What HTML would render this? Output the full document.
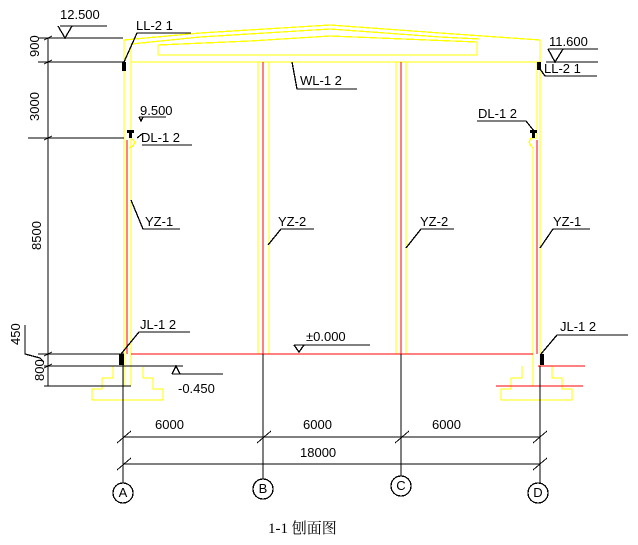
<!DOCTYPE html>
<html><head><meta charset="utf-8"><style>
html,body{margin:0;padding:0;background:#fff;}
svg{display:block;}
text{font-family:"Liberation Sans","Noto Sans CJK SC",sans-serif;font-size:13px;fill:#000;}
</style></head><body>
<svg width="638" height="545" viewBox="0 0 638 545" xmlns="http://www.w3.org/2000/svg">
<g fill="none" stroke-width="1.3" shape-rendering="crispEdges">
<g stroke="#ffff00">
<polyline points="124,62 124,40 200,33 330,25 440,33 540,40 540,62"/>
<polyline points="131,62 131,44 200,37 330,29 440,37 480,39"/>
<polyline points="158,55 158,45 250,41 330,36 477,42 477,55 158,55"/>
<line x1="131" y1="62" x2="540" y2="62"/>
<line x1="124" y1="62" x2="124" y2="386"/>
<line x1="131" y1="62" x2="131" y2="386"/>
<line x1="258" y1="62" x2="258" y2="354"/>
<line x1="269" y1="62" x2="269" y2="354"/>
<line x1="396" y1="62" x2="396" y2="354"/>
<line x1="406" y1="62" x2="406" y2="354"/>
<line x1="537" y1="62" x2="537" y2="137"/>
<polyline points="533,386 533,148 531,146 529,142 531,138 537,138"/>
<line x1="540" y1="62" x2="540" y2="386"/>
<polyline points="129,148 133,146 135,142 131,138"/>
<polyline points="113,366 113,378 102,378 102,389 92,389 92,400 163,400 163,389 153,389 153,378 143,378 143,367"/>
<polyline points="522,366 522,378 511,378 511,389 501,389 501,400 572,400 572,389 562,389 562,378 552,378 552,366 541,366"/>
</g>
<g stroke="#ff0000">
<line x1="127" y1="140" x2="127" y2="354"/>
<line x1="263" y1="62" x2="263" y2="354"/>
<line x1="401" y1="62" x2="401" y2="354"/>
<line x1="537" y1="140" x2="537" y2="354"/>
<line x1="131" y1="354" x2="533" y2="354"/>
<line x1="538" y1="366" x2="585" y2="366"/>
<line x1="496" y1="386" x2="583" y2="386"/>
</g>
<g stroke="#000">
<line x1="48" y1="38" x2="48" y2="386"/>
<line x1="38" y1="38" x2="123" y2="38"/>
<line x1="38" y1="62" x2="124" y2="62"/>
<line x1="28" y1="138" x2="124" y2="138"/>
<line x1="38" y1="354" x2="124" y2="354"/>
<line x1="44" y1="366" x2="183" y2="366"/>
<line x1="44" y1="386" x2="131" y2="386"/>
<polyline points="25,325 25,354 40,358 44,362"/>
<line x1="60" y1="26" x2="107" y2="26"/>
<polyline points="58,26 65,38 72,26"/>
<line x1="172" y1="374" x2="223" y2="374"/>
<polyline points="172,374 176,366 180,374"/>
<polyline points="124,62 137,33 191,33"/>
<line x1="137" y1="138" x2="142" y2="134"/>
<line x1="142" y1="145" x2="192" y2="145"/>
<polyline points="292,62 297,89 357,89"/>
<polyline points="540,69 545,76 597,76"/>
<line x1="546" y1="62" x2="598" y2="62"/>
<line x1="548" y1="49" x2="598" y2="49"/>
<polyline points="548,49 555,62 563,49"/>
<polyline points="477,121 526,121 534,131"/>
<polyline points="131,200 143,229 180,229"/>
<polyline points="268,245 281,229 314,229"/>
<polyline points="406,248 421,229 454,229"/>
<polyline points="540,248 553,229 590,229"/>
<polyline points="121,354 139,332 190,332"/>
<polyline points="541,354 557,335 628,335"/>
<line x1="294" y1="345" x2="370" y2="345"/>
<polyline points="294,345 299,352 304,345"/>
<line x1="139" y1="117" x2="166" y2="117"/>
<polyline points="139,117 141,121 143,117"/>
<line x1="123" y1="354" x2="123" y2="483"/>
<line x1="263" y1="354" x2="263" y2="479"/>
<line x1="401" y1="354" x2="401" y2="476"/>
<line x1="540" y1="366" x2="540" y2="483"/>
<line x1="123" y1="437" x2="540" y2="437"/>
<line x1="123" y1="464" x2="540" y2="464"/>
<g stroke-width="1">
<line x1="117" y1="443" x2="131" y2="431"/><line x1="257" y1="443" x2="271" y2="431"/>
<line x1="395" y1="443" x2="409" y2="431"/><line x1="533" y1="443" x2="547" y2="431"/>
<line x1="117" y1="470" x2="131" y2="458"/><line x1="533" y1="470" x2="547" y2="458"/>
<line x1="44" y1="40" x2="52" y2="36"/><line x1="44" y1="64" x2="52" y2="60"/>
<line x1="44" y1="140" x2="52" y2="136"/><line x1="44" y1="356" x2="52" y2="352"/>
<line x1="44" y1="368" x2="52" y2="364"/>
</g>
<circle cx="123" cy="493" r="10"/><circle cx="263" cy="489" r="10"/>
<circle cx="401" cy="486" r="10"/><circle cx="538" cy="493" r="10"/>
</g>
<g fill="#000">
<rect x="122" y="62" width="4" height="9"/>
<rect x="537" y="62" width="4" height="8"/>
<rect x="119" y="354" width="5" height="11"/>
<rect x="540" y="354" width="4" height="11"/>
<rect x="127" y="130" width="7" height="3"/><rect x="129" y="130" width="3" height="8"/>
<rect x="530" y="130" width="7" height="3"/><rect x="532" y="130" width="3" height="8"/>
</g>
</g>
<text x="60" y="19" font-size="14">12.500</text>
<text x="136" y="30">LL-2 1</text>
<text x="300" y="85">WL-1 2</text>
<text x="549" y="46">11.600</text>
<text x="544" y="73">LL-2 1</text>
<text x="140" y="115" font-size="10">9.500</text>
<text x="141" y="142">DL-1 2</text>
<text x="478" y="118">DL-1 2</text>
<text x="145" y="226">YZ-1</text>
<text x="278" y="226">YZ-2</text>
<text x="420" y="226">YZ-2</text>
<text x="553" y="226">YZ-1</text>
<text x="140" y="329">JL-1 2</text>
<text x="560" y="331">JL-1 2</text>
<text x="306" y="341">±0.000</text>
<text x="178" y="393" font-size="14">-0.450</text>
<text x="155" y="429">6000</text>
<text x="303" y="429">6000</text>
<text x="432" y="429">6000</text>
<text x="300" y="457">18000</text>
<g font-size="11">
<text transform="translate(39,57) rotate(-90)">900</text>
<text transform="translate(39,121) rotate(-90)">3000</text>
<text transform="translate(41,250) rotate(-90)">8500</text>
<text transform="translate(20,345) rotate(-90)">450</text>
<text transform="translate(44,381) rotate(-90)">800</text>
</g>
<g font-size="12" text-anchor="middle">
<text x="123" y="497">A</text><text x="263" y="493">B</text>
<text x="401" y="490">C</text><text x="538" y="497">D</text>
</g>
<text x="268" y="533" style="font-family:'Liberation Serif','Noto Serif CJK SC',serif;font-size:15px">1-1 刨面图</text>
</svg>
</body></html>
